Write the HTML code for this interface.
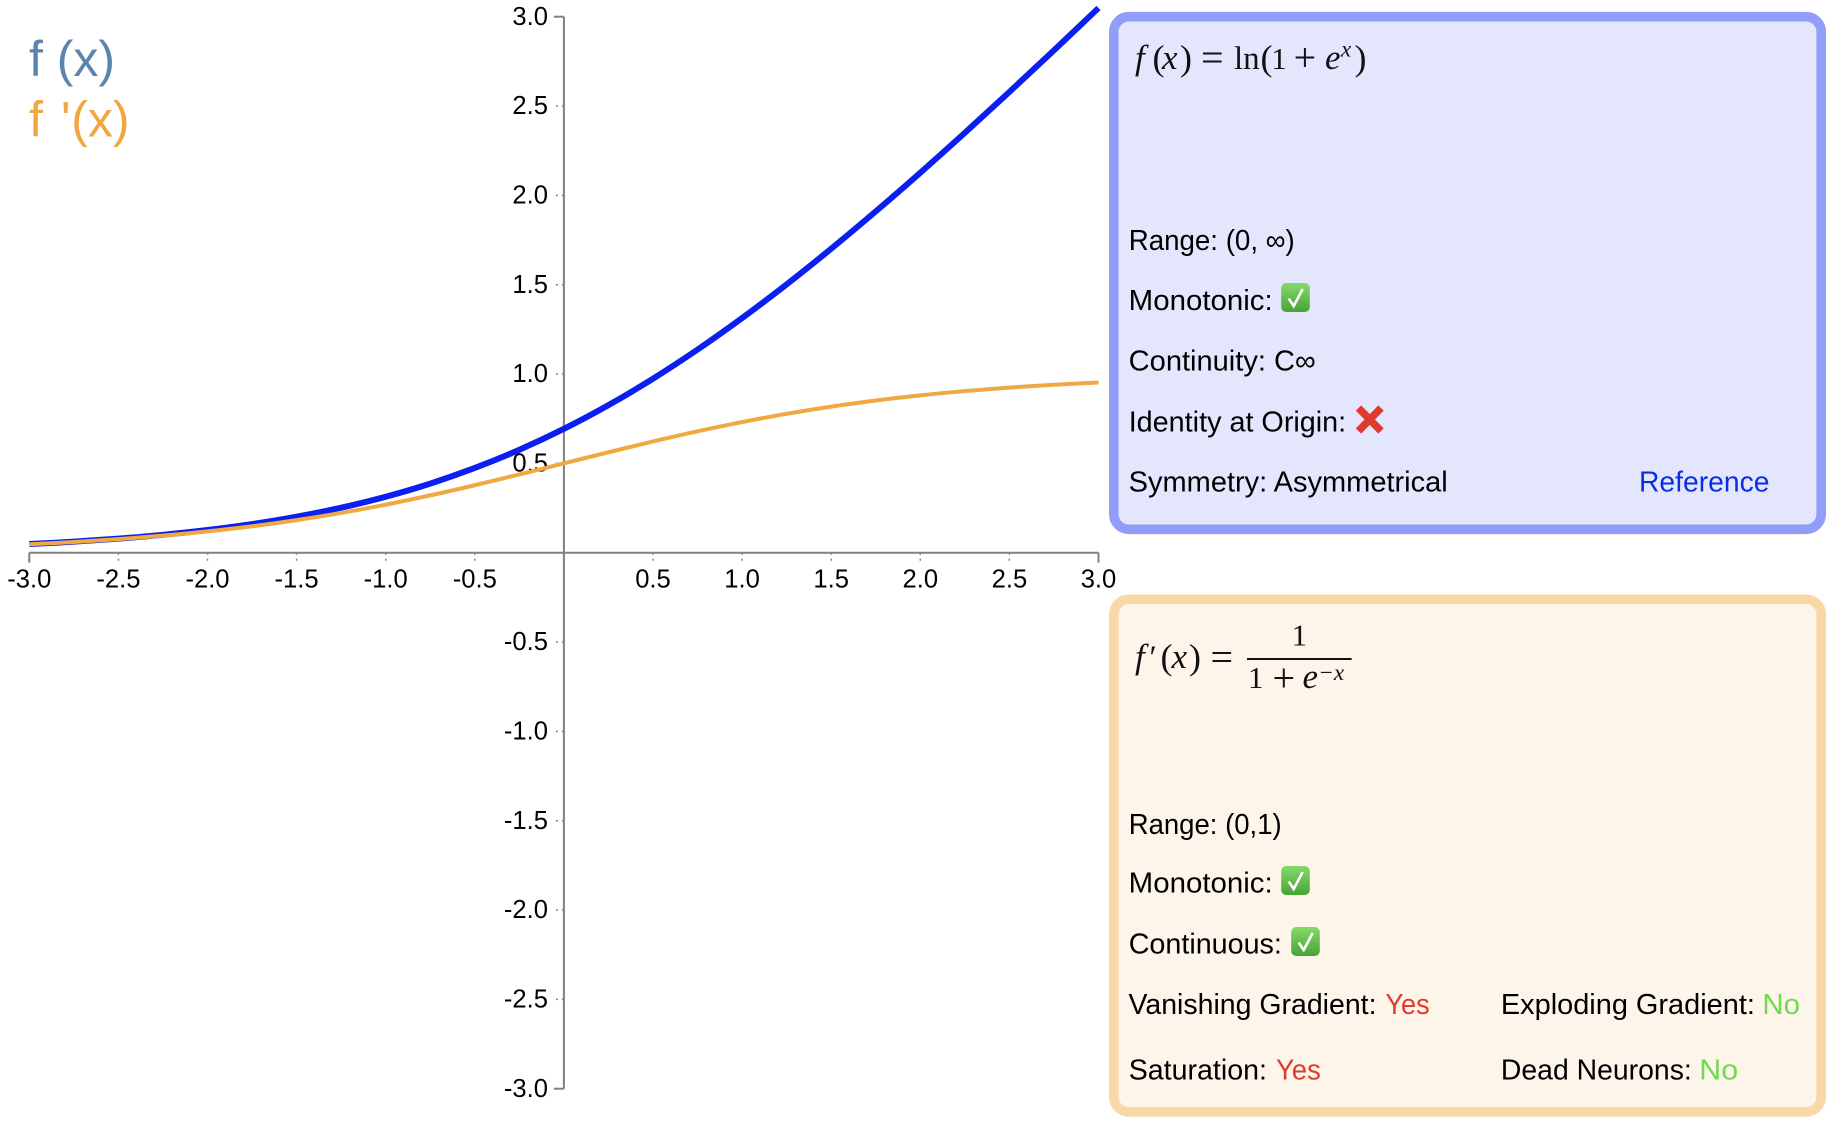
<!DOCTYPE html>
<html lang="en">
<head>
<meta charset="utf-8">
<title>Softplus activation function</title>
<style>
html,body{margin:0;padding:0;background:#fff;}
svg{display:block;}
text{font-family:"Liberation Sans",sans-serif;}
.tick{font-size:25.6px;fill:#000;}
.info{font-size:28.8px;fill:#000;}
.math{font-family:"Liberation Serif",serif;font-size:33px;fill:#111;}
.paren{font-family:"Liberation Serif",serif;font-size:36px;fill:#111;}
.op{font-family:"Liberation Serif",serif;font-size:40px;fill:#111;}
.one{font-family:"Liberation Serif",serif;font-size:31px;fill:#111;}
.mi{font-family:"Liberation Serif",serif;font-style:italic;font-size:35px;fill:#111;}
.sup{font-family:"Liberation Serif",serif;font-style:italic;font-size:23px;fill:#111;}
</style>
</head>
<body>
<svg id="chart" xmlns="http://www.w3.org/2000/svg" width="1836" height="1124" viewBox="0 0 1836 1124">
  <defs>
    <linearGradient id="check-green" x1="0" y1="0" x2="0" y2="1">
      <stop offset="0" stop-color="#86da6a"/>
      <stop offset="1" stop-color="#45a436"/>
    </linearGradient>
  </defs>
  <rect x="0" y="0" width="1836" height="1124" fill="#ffffff"/>
  <g id="tick-labels"></g>
  <g id="axes"></g>
  <g id="series"></g>

  <text x="29" y="76" font-size="50" fill="#5b84b1">f (x)</text>
  <g fill="#f0a73f" font-size="50">
    <text x="29" y="136.5">f</text>
    <text x="61" y="136.5">'</text>
    <text x="71.2" y="136.5">(x)</text>
  </g>

  <!-- function card -->
  <g>
    <rect x="1113.8" y="16.7" width="707.4" height="512.6" rx="15" ry="15" fill="#e4e6fd" stroke="#919df8" stroke-width="9.6"/>
    <g>
      <text class="mi" x="1135" y="69">f</text>
      <text class="paren" x="1152.5" y="70">(</text>
      <text class="mi" x="1162" y="69">x</text>
      <text class="paren" x="1180" y="70">)</text>
      <text class="op" x="1201" y="71">=</text>
      <text class="math" x="1234" y="69">ln</text>
      <text class="paren" x="1260.5" y="70">(</text>
      <text class="one" x="1271.3" y="69">1</text>
      <text class="op" x="1293.6" y="71">+</text>
      <text class="mi" x="1325" y="69">e</text>
      <text class="sup" x="1341" y="56.7">x</text>
      <text class="paren" x="1354.5" y="70">)</text>
    </g>
    <text class="info" x="1128.7" y="250" textLength="166" lengthAdjust="spacingAndGlyphs">Range: (0, ∞)</text>
    <text class="info" x="1128.7" y="310" textLength="144" lengthAdjust="spacingAndGlyphs">Monotonic:</text>
    <g transform="translate(1281.2 283)">
      <rect width="28.6" height="29" rx="5" fill="url(#check-green)"/>
      <path d="M7.5 15.5 L12.5 23 L21.5 6" fill="none" stroke="#fff" stroke-width="2.6"/>
    </g>
    <text class="info" x="1128.7" y="370.7" textLength="187" lengthAdjust="spacingAndGlyphs">Continuity: C∞</text>
    <text class="info" x="1128.7" y="431.7" textLength="217.5" lengthAdjust="spacingAndGlyphs">Identity at Origin:</text>
    <g transform="translate(1355 405)">
      <path d="M3.5 3 L26 26 M26 3 L3.5 26" fill="none" stroke="#e0392d" stroke-width="7.5"/>
    </g>
    <text class="info" x="1128.7" y="491.7" textLength="319" lengthAdjust="spacingAndGlyphs">Symmetry: Asymmetrical</text>
    <text class="info" x="1639" y="491.7" textLength="130.5" lengthAdjust="spacingAndGlyphs" style="fill:#0a2fe0;cursor:pointer">Reference</text>
  </g>

  <!-- derivative card -->
  <g>
    <rect x="1113.8" y="599.3" width="707.4" height="512.6" rx="15" ry="15" fill="#fef5ea" stroke="#f9d8a8" stroke-width="9.6"/>
    <g>
      <text class="mi" x="1135" y="668">f</text>
      <text class="math" x="1149.5" y="668">′</text>
      <text class="paren" x="1160.5" y="669">(</text>
      <text class="mi" x="1171.5" y="668">x</text>
      <text class="paren" x="1189" y="669">)</text>
      <text class="op" x="1210.5" y="670.5">=</text>
      <text class="one" x="1291.6" y="645.7">1</text>
      <rect x="1247" y="658" width="104.6" height="2" fill="#111"/>
      <text class="one" x="1248" y="688">1</text>
      <text class="op" x="1272.5" y="691.7">+</text>
      <text class="mi" x="1302.5" y="688">e</text>
      <text class="sup" x="1318.4" y="680">−x</text>
    </g>
    <text class="info" x="1128.7" y="834" textLength="153" lengthAdjust="spacingAndGlyphs">Range: (0,1)</text>
    <text class="info" x="1128.7" y="892.7" textLength="144" lengthAdjust="spacingAndGlyphs">Monotonic:</text>
    <g transform="translate(1281.2 866)">
      <rect width="28.6" height="29" rx="5" fill="url(#check-green)"/>
      <path d="M7.5 15.5 L12.5 23 L21.5 6" fill="none" stroke="#fff" stroke-width="2.6"/>
    </g>
    <text class="info" x="1128.7" y="953.7" textLength="153.2" lengthAdjust="spacingAndGlyphs">Continuous:</text>
    <g transform="translate(1291.2 927)">
      <rect width="28.6" height="29" rx="5" fill="url(#check-green)"/>
      <path d="M7.5 15.5 L12.5 23 L21.5 6" fill="none" stroke="#fff" stroke-width="2.6"/>
    </g>
    <text class="info" x="1128.5" y="1014" textLength="248" lengthAdjust="spacingAndGlyphs">Vanishing Gradient:</text>
    <text class="info" x="1385.4" y="1014" textLength="44.3" lengthAdjust="spacingAndGlyphs" style="fill:#e03a2e">Yes</text>
    <text class="info" x="1500.9" y="1014" textLength="254" lengthAdjust="spacingAndGlyphs">Exploding Gradient:</text>
    <text class="info" x="1762.4" y="1014" textLength="37.6" lengthAdjust="spacingAndGlyphs" style="fill:#6fdc50">No</text>
    <text class="info" x="1128.7" y="1079.3" textLength="138.3" lengthAdjust="spacingAndGlyphs">Saturation:</text>
    <text class="info" x="1276" y="1079.3" textLength="44.8" lengthAdjust="spacingAndGlyphs" style="fill:#e03a2e">Yes</text>
    <text class="info" x="1500.9" y="1079.3" textLength="190.9" lengthAdjust="spacingAndGlyphs">Dead Neurons:</text>
    <text class="info" x="1699.3" y="1079.3" textLength="38.8" lengthAdjust="spacingAndGlyphs" style="fill:#6fdc50">No</text>
  </g>
</svg>
<script>
var xSamples = [-3,-2.75,-2.5,-2.25,-2,-1.75,-1.5,-1.25,-1,-0.75,-0.5,-0.25,0,0.25,0.5,0.75,1,1.25,1.5,1.75,2,2.25,2.5,2.75,3];
var functionValues = [0.0486,0.0619,0.0789,0.1002,0.1269,0.1602,0.2014,0.2519,0.3133,0.3868,0.4741,0.5759,0.6931,0.8259,0.9741,1.1369,1.3133,1.5019,1.7014,1.9102,2.1269,2.3502,2.5789,2.8119,3.0486];
var derivativeValues = [0.0474,0.0601,0.0759,0.0953,0.1192,0.148,0.1824,0.2227,0.2689,0.3208,0.3775,0.4378,0.5,0.5622,0.6225,0.6792,0.7311,0.7773,0.8176,0.852,0.8808,0.9047,0.9241,0.9399,0.9526];
var xTickValues = [-3,-2.5,-2,-1.5,-1,-0.5,0.5,1,1.5,2,2.5,3];
var yTickValues = [3,2.5,2,1.5,1,0.5,-0.5,-1,-1.5,-2,-2.5,-3];

var NS = 'http://www.w3.org/2000/svg';
function sx(v){ return 563.9 + v * 178.2; }
function sy(v){ return 552.7 - v * 178.67; }
function make(tag, parent, attrs){
  var el = document.createElementNS(NS, tag);
  for (var k in attrs) el.setAttribute(k, attrs[k]);
  parent.appendChild(el);
  return el;
}
function curvePath(xs, ys){
  var pts = xs.map(function(x, i){ return [sx(x), sy(ys[i])]; });
  var d = 'M' + pts[0][0].toFixed(2) + ' ' + pts[0][1].toFixed(2);
  for (var i = 0; i < pts.length - 1; i++){
    var p0 = pts[Math.max(i - 1, 0)], p1 = pts[i], p2 = pts[i + 1], p3 = pts[Math.min(i + 2, pts.length - 1)];
    var c1x = p1[0] + (p2[0] - p0[0]) / 6, c1y = p1[1] + (p2[1] - p0[1]) / 6;
    var c2x = p2[0] - (p3[0] - p1[0]) / 6, c2y = p2[1] - (p3[1] - p1[1]) / 6;
    d += 'C' + c1x.toFixed(2) + ' ' + c1y.toFixed(2) + ' ' + c2x.toFixed(2) + ' ' + c2y.toFixed(2) + ' ' + p2[0].toFixed(2) + ' ' + p2[1].toFixed(2);
  }
  return d;
}
var axes = document.getElementById('axes');
var labels = document.getElementById('tick-labels');
var series = document.getElementById('series');
var axisColor = '#808080';

var xAxis = make('line', axes, {x1: sx(-3), x2: sx(3), y1: sy(0), y2: sy(0), stroke: axisColor, 'stroke-width': 2});


var yAxis = make('line', axes, {x1: sx(0), x2: sx(0), y1: sy(3), y2: sy(-3), stroke: axisColor, 'stroke-width': 2});



xTickValues.forEach(function(v){
  var end = Math.abs(v) === 3;
  var t = make('line', axes, {x1: sx(v), x2: sx(v), y1: sy(0), y2: sy(0) + 10, stroke: axisColor, 'stroke-width': end ? 2 : 1.5});
  if (!end) t.setAttribute('stroke-dasharray', '2 4');
  
  
  var l = make('text', labels, {x: sx(v), y: 587.3, 'text-anchor': 'middle', 'class': 'tick'});
  l.textContent = v.toFixed(1);
  
  
});
yTickValues.forEach(function(v){
  var end = Math.abs(v) === 3;
  var t = make('line', axes, {x1: sx(0), x2: sx(0) - 10, y1: sy(v), y2: sy(v), stroke: axisColor, 'stroke-width': end ? 2 : 1.5});
  if (!end) t.setAttribute('stroke-dasharray', '2 4');
  
  
  var l = make('text', labels, {x: 548, y: sy(v) + 8.2, 'text-anchor': 'end', 'class': 'tick'});
  l.textContent = v.toFixed(1);
  
  
});

var fLine = make('path', series, {d: curvePath(xSamples, functionValues), fill: 'none', stroke: '#0a1ff0', 'stroke-width': 6});


var dLine = make('path', series, {d: curvePath(xSamples, derivativeValues), fill: 'none', stroke: '#f0a840', 'stroke-width': 4});


</script>
</body>
</html>
